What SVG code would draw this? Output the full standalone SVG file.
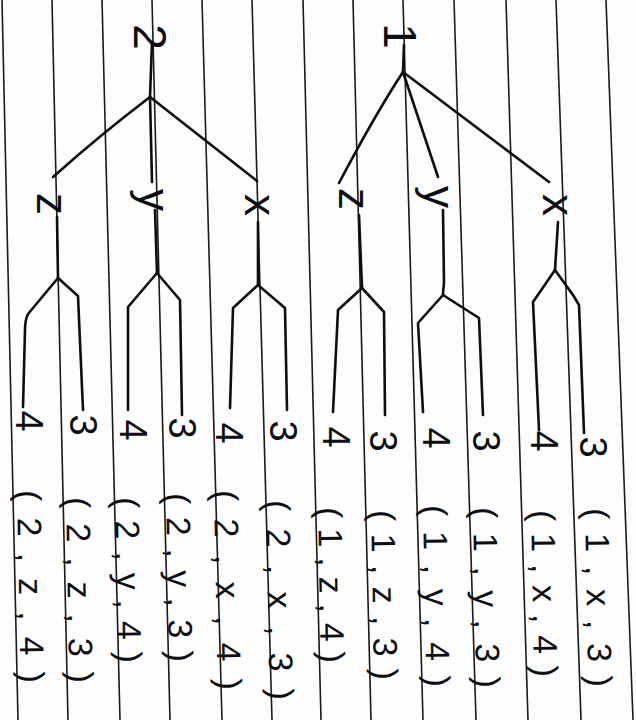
<svg xmlns="http://www.w3.org/2000/svg" width="636" height="720" viewBox="0 0 636 720">
<style>
.rule{stroke:#1a1a1a;stroke-width:1.6;fill:none}
.edge{stroke:#0d0d12;stroke-width:2.6;fill:none;stroke-linecap:round;stroke-linejoin:round}
text{font-family:"Liberation Sans","DejaVu Sans",sans-serif;fill:#0d0d12;text-anchor:middle}
.root{font-size:46px}
.mid{font-size:44px}
.leaf{font-size:38px}
.tup{font-size:34px;text-anchor:start}
</style>
<rect width="636" height="720" fill="#fdfdfd"/>
<g id="paper-rules">
<line class="rule" x1="2" y1="0" x2="18" y2="720"/>
<line class="rule" x1="52" y1="0" x2="68" y2="720"/>
<line class="rule" x1="102" y1="0" x2="120" y2="720"/>
<line class="rule" x1="152" y1="0" x2="170" y2="720"/>
<line class="rule" x1="202" y1="0" x2="222" y2="720"/>
<line class="rule" x1="252" y1="0" x2="272" y2="720"/>
<line class="rule" x1="303" y1="0" x2="321" y2="720"/>
<line class="rule" x1="353" y1="0" x2="371" y2="720"/>
<line class="rule" x1="403" y1="0" x2="423" y2="720"/>
<line class="rule" x1="454" y1="0" x2="476" y2="720"/>
<line class="rule" x1="506" y1="0" x2="528" y2="720"/>
<line class="rule" x1="556" y1="0" x2="581" y2="720"/>
<line class="rule" x1="606" y1="0" x2="633" y2="720"/>
</g>
<g id="connectors">
<path class="edge" d="M152,42 L150,97"/>
<path class="edge" d="M150,97 L152,182"/>
<path class="edge" d="M150,97 Q100,135 53,177"/>
<path class="edge" d="M150,97 L257,181"/>
<path class="edge" d="M57,217 L58,278"/>
<path class="edge" d="M58,278 L28,314 Q25,320 25,330 L23,407"/>
<path class="edge" d="M58,278 L78,296 L83,410"/>
<path class="edge" d="M155,210 L157,273"/>
<path class="edge" d="M157,273 L128,307 L128,410"/>
<path class="edge" d="M157,273 L180,300 L182,415"/>
<path class="edge" d="M258,222 L258,285"/>
<path class="edge" d="M258,285 L233,308 L230,408"/>
<path class="edge" d="M258,285 L285,308 L287,410"/>
<path class="edge" d="M404,45 L403,72"/>
<path class="edge" d="M403,72 Q376,113 339,183"/>
<path class="edge" d="M403,72 L438,177"/>
<path class="edge" d="M403,72 L549,182"/>
<path class="edge" d="M359,215 L362,288"/>
<path class="edge" d="M362,288 L338,310 L333,412"/>
<path class="edge" d="M362,288 L384,312 L385,415"/>
<path class="edge" d="M443,210 L444,283 Q443,292 443,295"/>
<path class="edge" d="M443,295 L418,323 L423,412"/>
<path class="edge" d="M443,295 L479,318 L483,415"/>
<path class="edge" d="M558,222 L555,270"/>
<path class="edge" d="M555,270 L533,302 L539,430"/>
<path class="edge" d="M555,270 L573,295 L579,305 L584,433"/>
</g>
<g id="root-2"><text class="root" transform="translate(150,37) rotate(90)" dy="0.35em">2</text></g>
<g id="root-1"><text class="root" transform="translate(400,36) rotate(90)" dy="0.35em">1</text></g>
<g id="n2-z"><text class="mid" transform="translate(50,204) rotate(90)" dy="0.3em">z</text></g>
<g id="n2-y"><text class="mid" transform="translate(152,200) rotate(90)" dy="0.3em">y</text></g>
<g id="n2-x"><text class="mid" transform="translate(258,205) rotate(90)" dy="0.3em">x</text></g>
<g id="n1-z"><text class="mid" transform="translate(352,199) rotate(90)" dy="0.3em">z</text></g>
<g id="n1-y"><text class="mid" transform="translate(437,197) rotate(90)" dy="0.3em">y</text></g>
<g id="n1-x"><text class="mid" transform="translate(556,205) rotate(90)" dy="0.3em">x</text></g>
<g id="leaf-2z4"><text class="leaf" transform="translate(29,421) rotate(90)" dy="0.35em">4</text></g>
<g id="leaf-2z3"><text class="leaf" transform="translate(83,425) rotate(90)" dy="0.35em">3</text></g>
<g id="leaf-2y4"><text class="leaf" transform="translate(133,430) rotate(90)" dy="0.35em">4</text></g>
<g id="leaf-2y3"><text class="leaf" transform="translate(182,428) rotate(90)" dy="0.35em">3</text></g>
<g id="leaf-2x4"><text class="leaf" transform="translate(229,433) rotate(90)" dy="0.35em">4</text></g>
<g id="leaf-2x3"><text class="leaf" transform="translate(283,431) rotate(90)" dy="0.35em">3</text></g>
<g id="leaf-1z4"><text class="leaf" transform="translate(336,437) rotate(90)" dy="0.35em">4</text></g>
<g id="leaf-1z3"><text class="leaf" transform="translate(383,441) rotate(90)" dy="0.35em">3</text></g>
<g id="leaf-1y4"><text class="leaf" transform="translate(436,438) rotate(90)" dy="0.35em">4</text></g>
<g id="leaf-1y3"><text class="leaf" transform="translate(486,441) rotate(90)" dy="0.35em">3</text></g>
<g id="leaf-1x4"><text class="leaf" transform="translate(544,441) rotate(90)" dy="0.35em">4</text></g>
<g id="leaf-1x3"><text class="leaf" transform="translate(593,447) rotate(90)" dy="0.35em">3</text></g>
<g id="tuples">
<text class="tup" transform="translate(29,490) rotate(89)" dy="0.35em" textLength="193" lengthAdjust="spacing">(2,z,4)</text>
<text class="tup" transform="translate(78,497) rotate(89)" dy="0.35em" textLength="186" lengthAdjust="spacing">(2,z,3)</text>
<text class="tup" transform="translate(127,497) rotate(89)" dy="0.35em" textLength="166" lengthAdjust="spacing">(2,y,4)</text>
<text class="tup" transform="translate(178,493) rotate(89)" dy="0.35em" textLength="169" lengthAdjust="spacing">(2,y,3)</text>
<text class="tup" transform="translate(226,490) rotate(89)" dy="0.35em" textLength="200" lengthAdjust="spacing">(2,x,4)</text>
<text class="tup" transform="translate(278,500) rotate(89)" dy="0.35em" textLength="200" lengthAdjust="spacing">(2,x,3)</text>
<text class="tup" transform="translate(330,507) rotate(89)" dy="0.35em" textLength="156" lengthAdjust="spacing">(1,z,4)</text>
<text class="tup" transform="translate(383,510) rotate(89)" dy="0.35em" textLength="170" lengthAdjust="spacing">(1,z,3)</text>
<text class="tup" transform="translate(435,505) rotate(89)" dy="0.35em" textLength="182" lengthAdjust="spacing">(1,y,4)</text>
<text class="tup" transform="translate(485,507) rotate(89)" dy="0.35em" textLength="181" lengthAdjust="spacing">(1,y,3)</text>
<text class="tup" transform="translate(543,510) rotate(89)" dy="0.35em" textLength="167" lengthAdjust="spacing">(1,x,4)</text>
<text class="tup" transform="translate(597,508) rotate(89)" dy="0.35em" textLength="179" lengthAdjust="spacing">(1,x,3)</text>
</g>
</svg>
